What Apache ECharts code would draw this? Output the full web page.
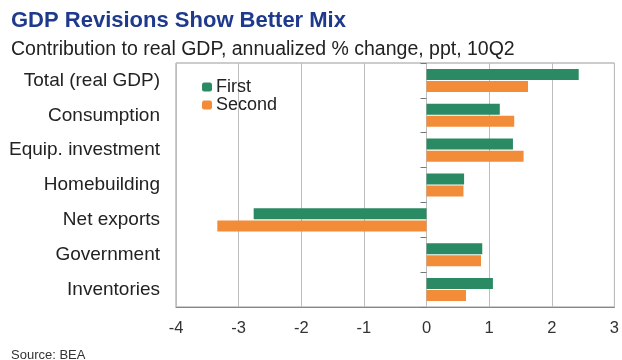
<!DOCTYPE html>
<html>
<head>
<meta charset="utf-8">
<script src="https://cdn.jsdelivr.net/npm/echarts@6/dist/echarts.min.js"></script>
<style>
  html, body { margin: 0; padding: 0; background: #fff; }
  #chart { width: 622px; height: 360px; }
</style>
</head>
<body>
<div id="chart"></div>
<script>
var categories = ['Total (real GDP)', 'Consumption', 'Equip. investment', 'Homebuilding', 'Net exports', 'Government', 'Inventories']
var firstValues = [2.43, 1.17, 1.38, 0.6, -2.76, 0.89, 1.06]
var secondValues = [1.62, 1.40, 1.55, 0.59, -3.34, 0.87, 0.63]
var xTicks = [-4, -3, -2, -1, 0, 1, 2, 3]

var myChart = echarts.init(document.getElementById('chart'))
var font = 'Liberation Sans, Arial, sans-serif'

myChart.setOption({
  animation: false,
  textStyle: { fontFamily: font },
  title: [{
    text: 'GDP Revisions Show Better Mix',
    left: 6,
    top: 5,
    textStyle: { fontSize: 22, fontWeight: 'bold', color: '#1f3a8c', fontFamily: font }
  }, {
    text: 'Contribution to real GDP, annualized % change, ppt, 10Q2',
    left: 6,
    top: 35,
    textStyle: { fontSize: 19.5, fontWeight: 'normal', color: '#222', fontFamily: font }
  }, {
    text: 'Source: BEA',
    left: 6,
    top: 344,
    textStyle: { fontSize: 13, fontWeight: 'normal', color: '#333', fontFamily: font }
  }],
  legend: {
    orient: 'vertical',
    left: 197,
    top: 73,
    itemWidth: 10,
    itemHeight: 9,
    itemGap: 0,
    textStyle: { fontSize: 18, color: '#222', lineHeight: 16, padding: [0, 0, 0, -1] },
    data: ['First', 'Second']
  },
  grid: {
    left: 176,
    right: 5,
    top: 63,
    bottom: 53,
    show: true,
    borderColor: '#999',
    borderWidth: 1
  },
  xAxis: {
    type: 'value',
    min: xTicks[0],
    max: xTicks[xTicks.length - 1],
    interval: 1,
    axisLine: { show: true, lineStyle: { color: '#888' } },
    axisTick: { show: false },
    axisLabel: { fontSize: 16.5, color: '#333', margin: 13 },
    splitLine: { show: true, lineStyle: { color: '#bdbdbd' } }
  },
  yAxis: [{
    type: 'category',
    inverse: true,
    data: categories,
    axisLine: { show: false, onZero: false },
    axisTick: { show: false },
    axisLabel: { fontSize: 19, color: '#222', margin: 16 }
  }, {
    type: 'category',
    inverse: true,
    data: categories,
    position: 'left',
    axisLine: { show: false, onZero: true },
    axisTick: { show: true, length: 6, lineStyle: { color: '#777' } },
    axisLabel: { show: false }
  }],
  series: [{
    name: 'First',
    type: 'bar',
    yAxisIndex: 0,
    barWidth: 11,
    barGap: '10%',
    itemStyle: { color: '#2a8a63' },
    data: firstValues
  }, {
    name: 'Second',
    type: 'bar',
    yAxisIndex: 0,
    barWidth: 11,
    barGap: '10%',
    itemStyle: { color: '#f28c38' },
    data: secondValues
  }]
})
</script>
</body>
</html>
